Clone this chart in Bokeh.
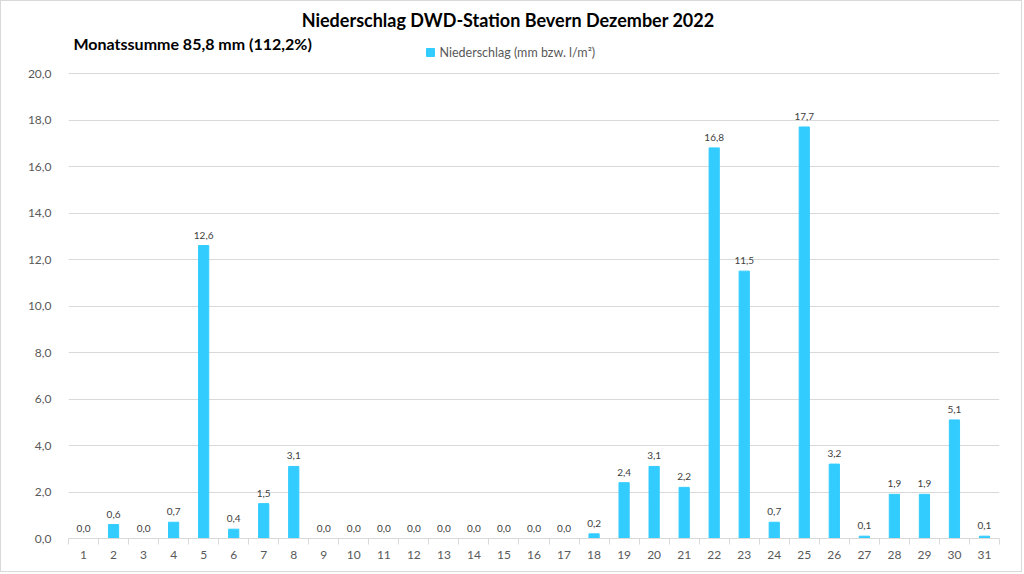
from bokeh.plotting import figure
from bokeh.models import FixedTicker, CustomJSTickFormatter, Label, Range1d, ColumnDataSource
from bokeh.core.properties import value
from bokeh.embed import file_html
from bokeh.resources import INLINE

days = list(range(1, 32))
rain = [0.0, 0.6, 0.0, 0.7, 12.6, 0.4, 1.5, 3.1, 0.0, 0.0, 0.0, 0.0, 0.0, 0.0,
        0.0, 0.0, 0.0, 0.2, 2.4, 3.1, 2.2, 16.8, 11.5, 0.7, 17.7, 3.2, 0.1,
        1.9, 1.9, 5.1, 0.1]
y_ticks = [0, 2, 4, 6, 8, 10, 12, 14, 16, 18, 20]
title_text = "Niederschlag  DWD-Station  Bevern Dezember 2022"
sub_text = "Monatssumme 85,8 mm (112,2%)"
legend_text = "Niederschlag (mm bzw. l/m\u00b2)"

FONT = "Lato"
BAR = "#33CCFF"
GRID = "#d9d9d9"
TXT = "#595959"

W, H = 1022, 572
L, R, B = 67, 24, 35
FRAME_B = H - B          # canvas y of value 0
Y20 = 72                 # canvas y of value 20
YMAX = 20 * FRAME_B / (FRAME_B - Y20)

p = figure(width=W, height=H, output_backend="svg", toolbar_location=None,
           x_range=Range1d(0.5, 31.5), y_range=Range1d(0, YMAX),
           min_border_left=L, min_border_right=R, min_border_top=0,
           min_border_bottom=B)
p.outline_line_color = None
p.background_fill_color = "white"
p.border_fill_color = "white"
p.styles = {"border": "1px solid #d9d9d9"}

src = ColumnDataSource(dict(x=days, top=rain,
                            lab=[f"{v:.1f}".replace(".", ",") for v in rain]))
p.vbar(x="x", top="top", width=0.34, bottom=0, color=BAR, source=src)
p.text(x="x", y="top", text="lab", source=src, text_align="center",
       text_baseline="bottom", y_offset=-7, text_font=value(FONT),
       text_font_size="10px", text_color="#404040")

# x axis
p.xaxis.ticker = FixedTicker(ticks=days, minor_ticks=[d + 0.5 for d in range(0, 32)])
p.xaxis.major_tick_line_color = None
p.xaxis.minor_tick_line_color = GRID
p.xaxis.minor_tick_in = 0
p.xaxis.minor_tick_out = 6
p.xaxis.axis_line_color = GRID
p.xaxis.major_label_text_font = FONT
p.xaxis.major_label_text_font_size = "12px"
p.xaxis.major_label_text_color = TXT
p.xaxis.major_label_standoff = 6
p.xgrid.grid_line_color = None

# y axis
p.yaxis.ticker = FixedTicker(ticks=y_ticks)
p.yaxis.formatter = CustomJSTickFormatter(code="return tick.toFixed(1).replace('.', ',');")
p.yaxis.axis_line_color = None
p.yaxis.major_tick_line_color = None
p.yaxis.minor_tick_line_color = None
p.yaxis.major_label_text_font = FONT
p.yaxis.major_label_text_font_size = "12px"
p.yaxis.major_label_text_color = TXT
p.yaxis.major_label_standoff = 11
p.ygrid.grid_line_color = GRID
p.ygrid.ticker = FixedTicker(ticks=y_ticks)

fw = W - L - R
fh = FRAME_B - Y20

def dx(sx):
    return 0.5 + (sx - L) / fw * 31

def dy(sy):
    return (FRAME_B - sy) / fh * 20

def lab(sx, sy, text, size, bold=False, color="#000000", align="left"):
    p.add_layout(Label(x=dx(sx), y=dy(sy), text=text, text_font=FONT,
                       text_font_size=size,
                       text_font_style="bold" if bold else "normal",
                       text_color=color, text_align=align, text_baseline="middle"))

lab(511, 18, title_text, "18px", bold=True, align="center")
lab(72, 42, sub_text, "16px", bold=True)
lab(438, 51, legend_text, "12.5px", color=TXT)
p.scatter(x=[dx(429)], y=[dy(51)], marker="square", size=8, color=BAR)

open("out.html", "w").write(file_html(p, INLINE))
